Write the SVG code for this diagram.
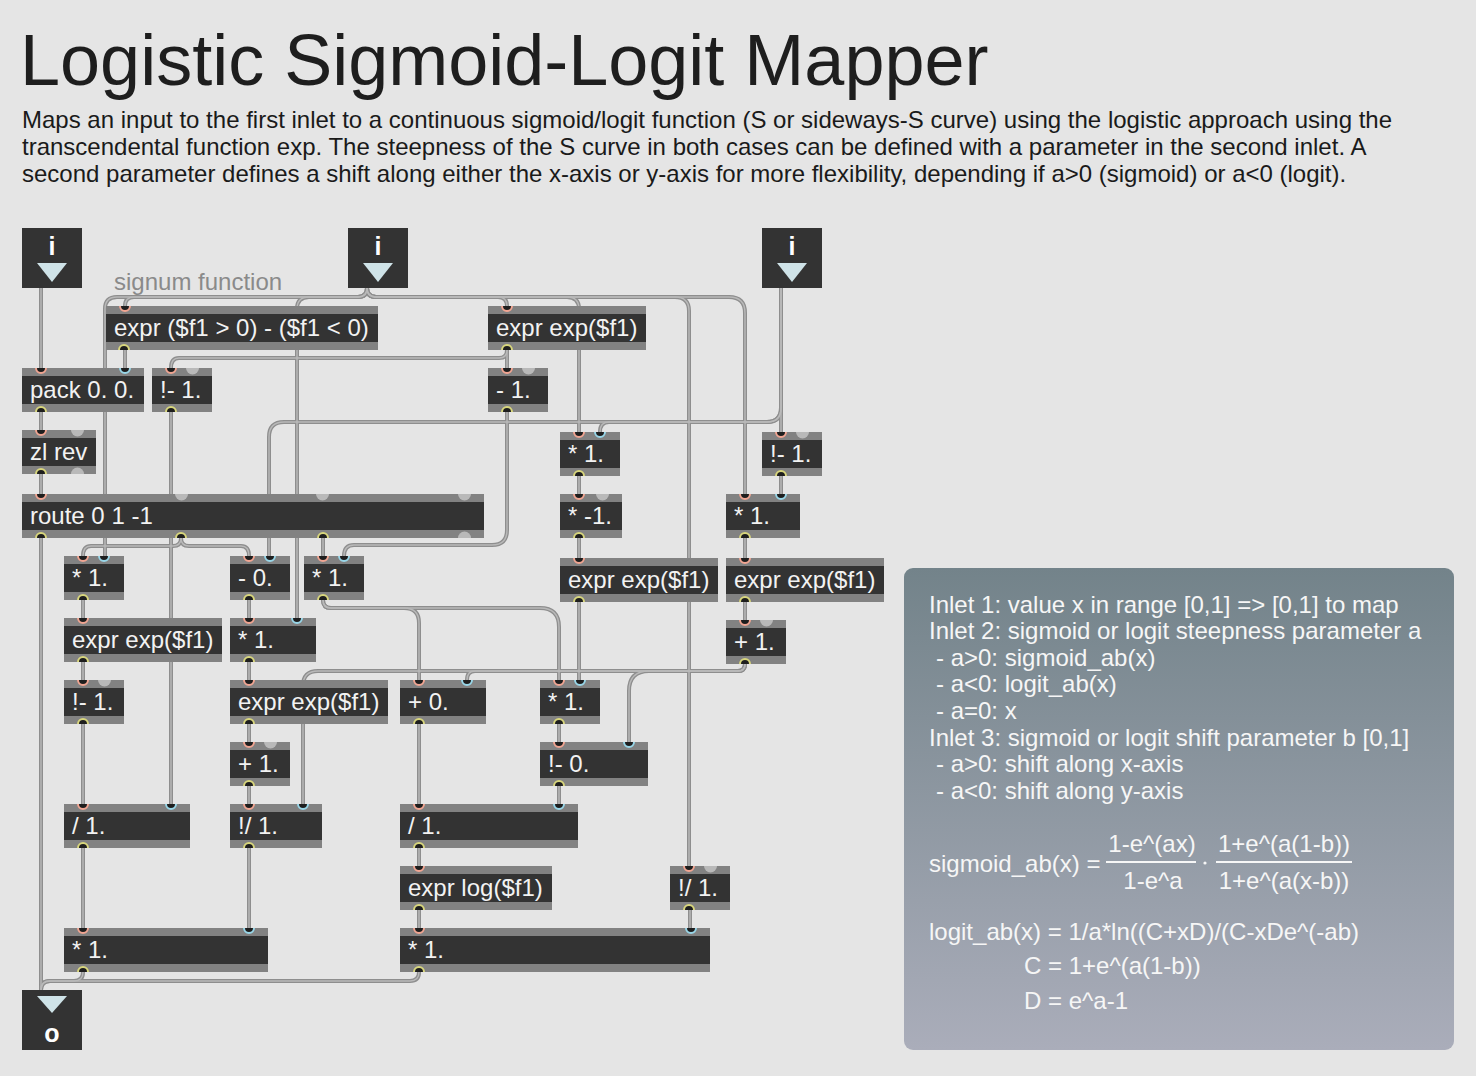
<svg xmlns="http://www.w3.org/2000/svg" xmlns:xlink="http://www.w3.org/1999/xlink" width="1476" height="1076" viewBox="0 0 1476 1076">
<defs>
<linearGradient id="pg" x1="0" y1="0" x2="0" y2="1">
<stop offset="0" stop-color="#73838a"/>
<stop offset="1" stop-color="#aaadba"/>
</linearGradient>
<style>
text{font-family:"Liberation Sans",Arial,Helvetica,sans-serif}
.bx{fill:#828282}
.bd{fill:#333333}
.t{fill:#f2f2f2;font-size:24px}
.hi{fill:#1e1e1e;stroke:#f1a592;stroke-width:2}
.ci{fill:#1e1e1e;stroke:#98d6e8;stroke-width:2}
.ou{fill:#1e1e1e;stroke:#d8d67c;stroke-width:2}
.gi{fill:#b9b9b9}
.io{fill:#333333}
.tri{fill:#cfe3e8}
.iot{fill:#ffffff;font-size:25px;font-weight:bold;text-anchor:middle}
.info{fill:#f6f6f6;font-size:24px}
</style>
</defs>
<rect x="0" y="0" width="1476" height="1076" fill="#e5e5e5"/>

<g id="title">
<text x="20" y="85" font-size="72" fill="#1e1e1e">Logistic Sigmoid-Logit Mapper</text>
<text x="22" y="128" font-size="24" fill="#1a1a1a">Maps an input to the first inlet to a continuous sigmoid/logit function (S or sideways-S curve) using the logistic approach using the</text>
<text x="22" y="155" font-size="24" fill="#1a1a1a">transcendental function exp. The steepness of the S curve in both cases can be defined with a parameter in the second inlet. A</text>
<text x="22" y="182" font-size="24" fill="#1a1a1a">second parameter defines a shift along either the x-axis or y-axis for more flexibility, depending if a&gt;0 (sigmoid) or a&lt;0 (logit).</text>
</g>

<g id="comment-signum">
<text x="114" y="290" font-size="24" fill="#8a8a8a">signum function</text>
</g>

<g id="connectors" fill="none">
<g stroke="#8e8e8e" stroke-width="4">
<path id="c1" d="M41 288V368"/>
<path id="c2" d="M367 288Q367 297 358 297H117Q105 297 105 309V556"/>
<path id="c3" d="M367 288Q367 297 358 297H134Q125 297 125 306"/>
<path id="c4" d="M367 288Q367 297 358 297H309Q297 297 297 309V618"/>
<path id="c5" d="M367 288Q367 297 376 297H498Q507 297 507 306"/>
<path id="c6" d="M367 288Q367 297 376 297H567Q579 297 579 309V432"/>
<path id="c7" d="M367 288Q367 297 376 297H675Q689 297 689 311V866"/>
<path id="c8" d="M367 288Q367 297 376 297H729Q745 297 745 313V494"/>
<path id="c9" d="M781 288V432"/>
<path id="c10" d="M781 288V408Q781 422 767 422H609Q600 422 600 432"/>
<path id="c11" d="M781 288V408Q781 422 767 422H284Q269 422 269 437V556"/>
<path id="c12" d="M125 350V368"/>
<path id="c13" d="M41 412V430"/>
<path id="c14" d="M41 474V494"/>
<path id="c15" d="M41 538V990"/>
<path id="c16" d="M181 538Q181 546 173 546H91Q83 546 83 556"/>
<path id="c17" d="M181 538Q181 546 189 546H241Q249 546 249 556"/>
<path id="c18" d="M323 538V556"/>
<path id="c19" d="M171 412V804"/>
<path id="c20" d="M507 350Q507 358 499 358H179Q171 358 171 368"/>
<path id="c21" d="M507 350V368"/>
<path id="c22" d="M507 412V530Q507 545 492 545H354Q344 545 344 556"/>
<path id="c23" d="M579 476V494"/>
<path id="c24" d="M781 476V494"/>
<path id="c25" d="M579 538V558"/>
<path id="c26" d="M745 538V558"/>
<path id="c27" d="M745 602V620"/>
<path id="c28" d="M579 602V680"/>
<path id="c29" d="M83 600V618"/>
<path id="c30" d="M249 600V618"/>
<path id="c31" d="M323 600Q323 608 331 608H404Q419 608 419 623V680"/>
<path id="c32" d="M323 600Q323 608 331 608H540Q559 608 559 627V680"/>
<path id="c33" d="M83 662V680"/>
<path id="c34" d="M249 662V680"/>
<path id="c35" d="M83 724V804"/>
<path id="c36" d="M249 724V742"/>
<path id="c37" d="M249 786V804"/>
<path id="c38" d="M745 664Q745 671 738 671H475Q467 671 467 680"/>
<path id="c39" d="M745 664Q745 671 738 671H649Q629 671 629 691V742"/>
<path id="c40" d="M745 664Q745 671 738 671H318Q303 671 303 686V804"/>
<path id="c41" d="M559 724V742"/>
<path id="c42" d="M419 724V804"/>
<path id="c43" d="M559 786V804"/>
<path id="c44" d="M83 848V928"/>
<path id="c45" d="M249 848V928"/>
<path id="c46" d="M419 848V866"/>
<path id="c47" d="M419 910V928"/>
<path id="c48" d="M690 910V928"/>
<path id="c49" d="M83 972Q83 981 74 981H50Q41 981 41 990"/>
<path id="c50" d="M419 972Q419 981 410 981H50Q41 981 41 990"/>
</g>
<g stroke="#b9b9b9" stroke-width="1.4">
<use xlink:href="#c1"/><use xlink:href="#c2"/><use xlink:href="#c3"/><use xlink:href="#c4"/><use xlink:href="#c5"/>
<use xlink:href="#c6"/><use xlink:href="#c7"/><use xlink:href="#c8"/><use xlink:href="#c9"/><use xlink:href="#c10"/>
<use xlink:href="#c11"/><use xlink:href="#c12"/><use xlink:href="#c13"/><use xlink:href="#c14"/><use xlink:href="#c15"/>
<use xlink:href="#c16"/><use xlink:href="#c17"/><use xlink:href="#c18"/><use xlink:href="#c19"/><use xlink:href="#c20"/>
<use xlink:href="#c21"/><use xlink:href="#c22"/><use xlink:href="#c23"/><use xlink:href="#c24"/><use xlink:href="#c25"/>
<use xlink:href="#c26"/><use xlink:href="#c27"/><use xlink:href="#c28"/><use xlink:href="#c29"/><use xlink:href="#c30"/>
<use xlink:href="#c31"/><use xlink:href="#c32"/><use xlink:href="#c33"/><use xlink:href="#c34"/><use xlink:href="#c35"/>
<use xlink:href="#c36"/><use xlink:href="#c37"/><use xlink:href="#c38"/><use xlink:href="#c39"/><use xlink:href="#c40"/>
<use xlink:href="#c41"/><use xlink:href="#c42"/><use xlink:href="#c43"/><use xlink:href="#c44"/><use xlink:href="#c45"/>
<use xlink:href="#c46"/><use xlink:href="#c47"/><use xlink:href="#c48"/><use xlink:href="#c49"/><use xlink:href="#c50"/>
</g>
</g>

<g id="inlet1"><rect class="io" x="22" y="228" width="60" height="60"/><text class="iot" x="52" y="255">i</text><path class="tri" d="M37 263H67L52 282Z"/></g>
<g id="inlet2"><rect class="io" x="348" y="228" width="60" height="60"/><text class="iot" x="378" y="255">i</text><path class="tri" d="M363 263H393L378 282Z"/></g>
<g id="inlet3"><rect class="io" x="762" y="228" width="60" height="60"/><text class="iot" x="792" y="255">i</text><path class="tri" d="M777 263H807L792 282Z"/></g>
<g id="outlet1"><rect class="io" x="22" y="990" width="60" height="60"/><path class="tri" d="M37 996H67L52 1013Z"/><text class="iot" x="52" y="1042">o</text></g>

<g id="signum"><rect class="bx" x="106" y="306" width="272" height="44"/><rect class="bd" x="106" y="314" width="272" height="28"/><text class="t" x="114" y="336">expr ($f1 &gt; 0) - ($f1 &lt; 0)</text><path class="hi" d="M120 306a5 5 0 0 0 10 0"/><path class="ou" d="M119 350a5 5 0 0 1 10 0"/></g>
<g id="pack"><rect class="bx" x="22" y="368" width="122" height="44"/><rect class="bd" x="22" y="376" width="122" height="28"/><text class="t" x="30" y="398">pack 0. 0.</text><path class="hi" d="M36 368a5 5 0 0 0 10 0"/><path class="ci" d="M120 368a5 5 0 0 0 10 0"/><path class="ou" d="M36 412a5 5 0 0 1 10 0"/></g>
<g id="rsub1"><rect class="bx" x="152" y="368" width="60" height="44"/><rect class="bd" x="152" y="376" width="60" height="28"/><text class="t" x="160" y="398">!- 1.</text><path class="hi" d="M166 368a5 5 0 0 0 10 0"/><path class="gi" d="M186 368a6.5 6.5 0 0 0 13 0"/><path class="ou" d="M166 412a5 5 0 0 1 10 0"/></g>
<g id="exp0"><rect class="bx" x="488" y="306" width="158" height="44"/><rect class="bd" x="488" y="314" width="158" height="28"/><text class="t" x="496" y="336">expr exp($f1)</text><path class="hi" d="M502 306a5 5 0 0 0 10 0"/><path class="ou" d="M502 350a5 5 0 0 1 10 0"/></g>
<g id="sub1"><rect class="bx" x="488" y="368" width="60" height="44"/><rect class="bd" x="488" y="376" width="60" height="28"/><text class="t" x="496" y="398">- 1.</text><path class="hi" d="M502 368a5 5 0 0 0 10 0"/><path class="gi" d="M522 368a6.5 6.5 0 0 0 13 0"/><path class="ou" d="M502 412a5 5 0 0 1 10 0"/></g>
<g id="zlrev"><rect class="bx" x="22" y="430" width="74" height="44"/><rect class="bd" x="22" y="438" width="74" height="28"/><text class="t" x="30" y="460">zl rev</text><path class="hi" d="M36 430a5 5 0 0 0 10 0"/><path class="gi" d="M71 430a6.5 6.5 0 0 0 13 0"/><path class="ou" d="M36 474a5 5 0 0 1 10 0"/><path class="gi" d="M71 474a6.5 6.5 0 0 1 13 0"/></g>
<g id="route"><rect class="bx" x="22" y="494" width="462" height="44"/><rect class="bd" x="22" y="502" width="462" height="28"/><text class="t" x="30" y="524">route 0 1 -1</text><path class="hi" d="M36 494a5 5 0 0 0 10 0"/><path class="gi" d="M175 494a6.5 6.5 0 0 0 13 0"/><path class="gi" d="M316 494a6.5 6.5 0 0 0 13 0"/><path class="gi" d="M458 494a6.5 6.5 0 0 0 13 0"/><path class="ou" d="M36 538a5 5 0 0 1 10 0"/><path class="ou" d="M176 538a5 5 0 0 1 10 0"/><path class="ou" d="M318 538a5 5 0 0 1 10 0"/><path class="gi" d="M458 538a6.5 6.5 0 0 1 13 0"/></g>
<g id="mulA"><rect class="bx" x="64" y="556" width="60" height="44"/><rect class="bd" x="64" y="564" width="60" height="28"/><text class="t" x="72" y="586">* 1.</text><path class="hi" d="M78 556a5 5 0 0 0 10 0"/><path class="ci" d="M99 556a5 5 0 0 0 10 0"/><path class="ou" d="M78 600a5 5 0 0 1 10 0"/></g>
<g id="sub0"><rect class="bx" x="230" y="556" width="60" height="44"/><rect class="bd" x="230" y="564" width="60" height="28"/><text class="t" x="238" y="586">- 0.</text><path class="hi" d="M244 556a5 5 0 0 0 10 0"/><path class="ci" d="M265 556a5 5 0 0 0 10 0"/><path class="ou" d="M244 600a5 5 0 0 1 10 0"/></g>
<g id="mulB"><rect class="bx" x="304" y="556" width="60" height="44"/><rect class="bd" x="304" y="564" width="60" height="28"/><text class="t" x="312" y="586">* 1.</text><path class="hi" d="M318 556a5 5 0 0 0 10 0"/><path class="ci" d="M339 556a5 5 0 0 0 10 0"/><path class="ou" d="M318 600a5 5 0 0 1 10 0"/></g>
<g id="mulC"><rect class="bx" x="560" y="432" width="60" height="44"/><rect class="bd" x="560" y="440" width="60" height="28"/><text class="t" x="568" y="462">* 1.</text><path class="hi" d="M574 432a5 5 0 0 0 10 0"/><path class="ci" d="M595 432a5 5 0 0 0 10 0"/><path class="ou" d="M574 476a5 5 0 0 1 10 0"/></g>
<g id="rsub2"><rect class="bx" x="762" y="432" width="60" height="44"/><rect class="bd" x="762" y="440" width="60" height="28"/><text class="t" x="770" y="462">!- 1.</text><path class="hi" d="M776 432a5 5 0 0 0 10 0"/><path class="gi" d="M796 432a6.5 6.5 0 0 0 13 0"/><path class="ou" d="M776 476a5 5 0 0 1 10 0"/></g>
<g id="mulNeg"><rect class="bx" x="560" y="494" width="62" height="44"/><rect class="bd" x="560" y="502" width="62" height="28"/><text class="t" x="568" y="524">* -1.</text><path class="hi" d="M574 494a5 5 0 0 0 10 0"/><path class="gi" d="M596 494a6.5 6.5 0 0 0 13 0"/><path class="ou" d="M574 538a5 5 0 0 1 10 0"/></g>
<g id="mulD"><rect class="bx" x="726" y="494" width="74" height="44"/><rect class="bd" x="726" y="502" width="74" height="28"/><text class="t" x="734" y="524">* 1.</text><path class="hi" d="M740 494a5 5 0 0 0 10 0"/><path class="ci" d="M776 494a5 5 0 0 0 10 0"/><path class="ou" d="M740 538a5 5 0 0 1 10 0"/></g>
<g id="exp1"><rect class="bx" x="560" y="558" width="158" height="44"/><rect class="bd" x="560" y="566" width="158" height="28"/><text class="t" x="568" y="588">expr exp($f1)</text><path class="hi" d="M574 558a5 5 0 0 0 10 0"/><path class="ou" d="M574 602a5 5 0 0 1 10 0"/></g>
<g id="exp2"><rect class="bx" x="726" y="558" width="158" height="44"/><rect class="bd" x="726" y="566" width="158" height="28"/><text class="t" x="734" y="588">expr exp($f1)</text><path class="hi" d="M740 558a5 5 0 0 0 10 0"/><path class="ou" d="M740 602a5 5 0 0 1 10 0"/></g>
<g id="expF"><rect class="bx" x="64" y="618" width="158" height="44"/><rect class="bd" x="64" y="626" width="158" height="28"/><text class="t" x="72" y="648">expr exp($f1)</text><path class="hi" d="M78 618a5 5 0 0 0 10 0"/><path class="ou" d="M78 662a5 5 0 0 1 10 0"/></g>
<g id="mulG"><rect class="bx" x="230" y="618" width="86" height="44"/><rect class="bd" x="230" y="626" width="86" height="28"/><text class="t" x="238" y="648">* 1.</text><path class="hi" d="M244 618a5 5 0 0 0 10 0"/><path class="ci" d="M292 618a5 5 0 0 0 10 0"/><path class="ou" d="M244 662a5 5 0 0 1 10 0"/></g>
<g id="rsubH"><rect class="bx" x="64" y="680" width="60" height="44"/><rect class="bd" x="64" y="688" width="60" height="28"/><text class="t" x="72" y="710">!- 1.</text><path class="hi" d="M78 680a5 5 0 0 0 10 0"/><path class="gi" d="M98 680a6.5 6.5 0 0 0 13 0"/><path class="ou" d="M78 724a5 5 0 0 1 10 0"/></g>
<g id="expI"><rect class="bx" x="230" y="680" width="158" height="44"/><rect class="bd" x="230" y="688" width="158" height="28"/><text class="t" x="238" y="710">expr exp($f1)</text><path class="hi" d="M244 680a5 5 0 0 0 10 0"/><path class="ou" d="M244 724a5 5 0 0 1 10 0"/></g>
<g id="addJ"><rect class="bx" x="400" y="680" width="86" height="44"/><rect class="bd" x="400" y="688" width="86" height="28"/><text class="t" x="408" y="710">+ 0.</text><path class="hi" d="M414 680a5 5 0 0 0 10 0"/><path class="ci" d="M462 680a5 5 0 0 0 10 0"/><path class="ou" d="M414 724a5 5 0 0 1 10 0"/></g>
<g id="addK"><rect class="bx" x="230" y="742" width="60" height="44"/><rect class="bd" x="230" y="750" width="60" height="28"/><text class="t" x="238" y="772">+ 1.</text><path class="hi" d="M244 742a5 5 0 0 0 10 0"/><path class="gi" d="M264 742a6.5 6.5 0 0 0 13 0"/><path class="ou" d="M244 786a5 5 0 0 1 10 0"/></g>
<g id="addL"><rect class="bx" x="726" y="620" width="60" height="44"/><rect class="bd" x="726" y="628" width="60" height="28"/><text class="t" x="734" y="650">+ 1.</text><path class="hi" d="M740 620a5 5 0 0 0 10 0"/><path class="gi" d="M760 620a6.5 6.5 0 0 0 13 0"/><path class="ou" d="M740 664a5 5 0 0 1 10 0"/></g>
<g id="mulM"><rect class="bx" x="540" y="680" width="60" height="44"/><rect class="bd" x="540" y="688" width="60" height="28"/><text class="t" x="548" y="710">* 1.</text><path class="hi" d="M554 680a5 5 0 0 0 10 0"/><path class="ci" d="M575 680a5 5 0 0 0 10 0"/><path class="ou" d="M554 724a5 5 0 0 1 10 0"/></g>
<g id="rsub0"><rect class="bx" x="540" y="742" width="108" height="44"/><rect class="bd" x="540" y="750" width="108" height="28"/><text class="t" x="548" y="772">!- 0.</text><path class="hi" d="M554 742a5 5 0 0 0 10 0"/><path class="ci" d="M624 742a5 5 0 0 0 10 0"/><path class="ou" d="M554 786a5 5 0 0 1 10 0"/></g>
<g id="divN"><rect class="bx" x="64" y="804" width="126" height="44"/><rect class="bd" x="64" y="812" width="126" height="28"/><text class="t" x="72" y="834">/ 1.</text><path class="hi" d="M78 804a5 5 0 0 0 10 0"/><path class="ci" d="M166 804a5 5 0 0 0 10 0"/><path class="ou" d="M78 848a5 5 0 0 1 10 0"/></g>
<g id="rdivO"><rect class="bx" x="230" y="804" width="92" height="44"/><rect class="bd" x="230" y="812" width="92" height="28"/><text class="t" x="238" y="834">!/ 1.</text><path class="hi" d="M244 804a5 5 0 0 0 10 0"/><path class="ci" d="M298 804a5 5 0 0 0 10 0"/><path class="ou" d="M244 848a5 5 0 0 1 10 0"/></g>
<g id="divP"><rect class="bx" x="400" y="804" width="178" height="44"/><rect class="bd" x="400" y="812" width="178" height="28"/><text class="t" x="408" y="834">/ 1.</text><path class="hi" d="M414 804a5 5 0 0 0 10 0"/><path class="ci" d="M554 804a5 5 0 0 0 10 0"/><path class="ou" d="M414 848a5 5 0 0 1 10 0"/></g>
<g id="logQ"><rect class="bx" x="400" y="866" width="152" height="44"/><rect class="bd" x="400" y="874" width="152" height="28"/><text class="t" x="408" y="896">expr log($f1)</text><path class="hi" d="M414 866a5 5 0 0 0 10 0"/><path class="ou" d="M414 910a5 5 0 0 1 10 0"/></g>
<g id="rdivQ"><rect class="bx" x="670" y="866" width="60" height="44"/><rect class="bd" x="670" y="874" width="60" height="28"/><text class="t" x="678" y="896">!/ 1.</text><path class="hi" d="M684 866a5 5 0 0 0 10 0"/><path class="gi" d="M704 866a6.5 6.5 0 0 0 13 0"/><path class="ou" d="M684 910a5 5 0 0 1 10 0"/></g>
<g id="mulR"><rect class="bx" x="64" y="928" width="204" height="44"/><rect class="bd" x="64" y="936" width="204" height="28"/><text class="t" x="72" y="958">* 1.</text><path class="hi" d="M78 928a5 5 0 0 0 10 0"/><path class="ci" d="M244 928a5 5 0 0 0 10 0"/><path class="ou" d="M78 972a5 5 0 0 1 10 0"/></g>
<g id="mulS"><rect class="bx" x="400" y="928" width="310" height="44"/><rect class="bd" x="400" y="936" width="310" height="28"/><text class="t" x="408" y="958">* 1.</text><path class="hi" d="M414 928a5 5 0 0 0 10 0"/><path class="ci" d="M686 928a5 5 0 0 0 10 0"/><path class="ou" d="M414 972a5 5 0 0 1 10 0"/></g>

<g id="info-panel">
<rect x="904" y="568" width="550" height="482" rx="9" fill="url(#pg)"/>
<text class="info" x="929" y="613">Inlet 1: value x in range [0,1] =&gt; [0,1] to map</text>
<text class="info" x="929" y="639">Inlet 2: sigmoid or logit steepness parameter a</text>
<text class="info" x="936" y="666">- a&gt;0: sigmoid_ab(x)</text>
<text class="info" x="936" y="692">- a&lt;0: logit_ab(x)</text>
<text class="info" x="936" y="719">- a=0: x</text>
<text class="info" x="929" y="746">Inlet 3: sigmoid or logit shift parameter b [0,1]</text>
<text class="info" x="936" y="772">- a&gt;0: shift along x-axis</text>
<text class="info" x="936" y="799">- a&lt;0: shift along y-axis</text>
<text class="info" x="929" y="872">sigmoid_ab(x) =</text>
<text class="info" x="1152" y="852" text-anchor="middle">1-e^(ax)</text>
<line x1="1106" y1="862" x2="1196" y2="862" stroke="#f6f6f6" stroke-width="2"/>
<text class="info" x="1153" y="889" text-anchor="middle">1-e^a</text>
<circle cx="1205" cy="863" r="1.6" fill="#f6f6f6"/>
<text class="info" x="1284" y="852" text-anchor="middle">1+e^(a(1-b))</text>
<line x1="1216" y1="862" x2="1352" y2="862" stroke="#f6f6f6" stroke-width="2"/>
<text class="info" x="1284" y="889" text-anchor="middle">1+e^(a(x-b))</text>
<text class="info" x="929" y="940">logit_ab(x) = 1/a*ln((C+xD)/(C-xDe^(-ab)</text>
<text class="info" x="1024" y="974">C = 1+e^(a(1-b))</text>
<text class="info" x="1024" y="1009">D = e^a-1</text>
</g>
</svg>
